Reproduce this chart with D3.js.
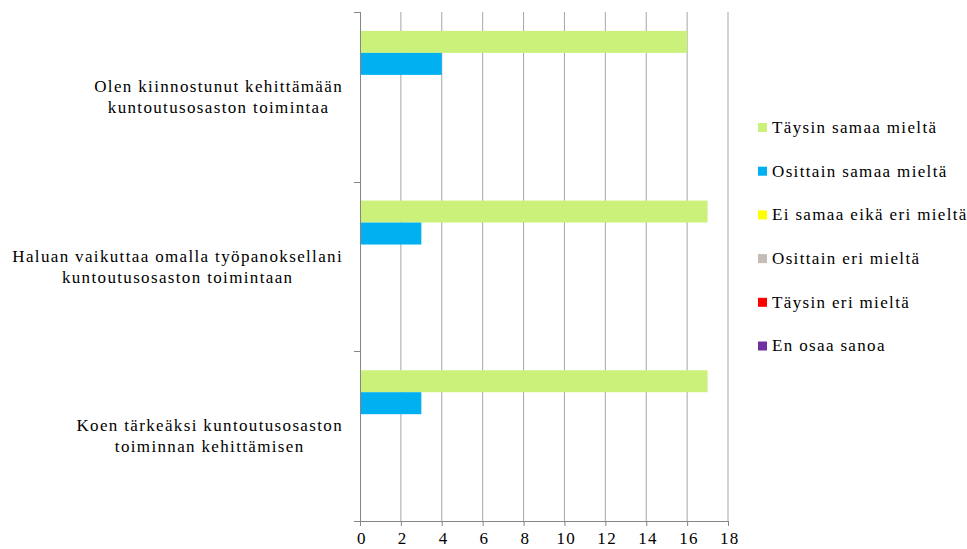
<!DOCTYPE html>
<html>
<head>
<meta charset="utf-8">
<script src="https://cdn.jsdelivr.net/npm/d3@7"></script>
</head>
<body style="margin:0; background:#fff">
<div id="chart"></div>
<script>
var categories = [
    ["Olen kiinnostunut kehittämään", "kuntoutusosaston toimintaa"],
    ["Haluan vaikuttaa omalla työpanoksellani", "kuntoutusosaston toimintaan"],
    ["Koen tärkeäksi kuntoutusosaston", "toiminnan kehittämisen"]
];
var seriesNames = [
    "Täysin samaa mieltä",
    "Osittain samaa mieltä",
    "Ei samaa eikä eri mieltä",
    "Osittain eri mieltä",
    "Täysin eri mieltä",
    "En osaa sanoa"
];
var seriesColors = ["#ccf17b", "#00b0f0", "#ffff00", "#c4bdb7", "#ff0000", "#7030a0"];
// values per series, in category order
var taysinSamaa = [16, 17, 17];
var osittainSamaa = [4, 3, 3];
var eiSamaaEikaEri = [0, 0, 0];
var osittainEri = [0, 0, 0];
var taysinEri = [0, 0, 0];
var enOsaa = [0, 0, 0];
var xTicks = [0, 2, 4, 6, 8, 10, 12, 14, 16, 18];

var values = [taysinSamaa, osittainSamaa, eiSamaaEikaEri, osittainEri, taysinEri, enOsaa];

var width = 967,
    height = 549,
    margin = { left: 360, top: 12, right: 239, bottom: 28 };

// same look as the old office chart
function serif(sel) {
    return sel
        .style('font-family', '"Liberation Serif"')
        .style('font-size', '17px')
        .style('letter-spacing', '1.35px')
        .attr('fill', '#000');
}

var svg = d3.select('#chart')
    .append('svg')
    .attr('width', width)
    .attr('height', height);

var x = d3.scaleLinear()
    .domain([0, 18])
    .range([margin.left, width - margin.right]);

var y = d3.scaleBand()
    .domain(d3.range(categories.length))
    .range([margin.top, height - margin.bottom]);

var ySeries = d3.scaleBand()
    .domain(d3.range(seriesNames.length))
    .range([0, y.bandwidth()])
    .paddingOuter(0.86);

// vertical gridlines
svg.append('g')
    .selectAll('line')
    .data(xTicks.slice(1))
    .enter()
    .append('line')
    .attr('x1', function(d) { return x(d); })
    .attr('x2', function(d) { return x(d); })
    .attr('y1', margin.top)
    .attr('y2', height - margin.bottom)
    .attr('stroke', '#a6a6a6')
    .attr('stroke-width', 1);

// bars
var groups = svg.append('g')
    .selectAll('g')
    .data(values)
    .enter()
    .append('g')
    .attr('fill', function(d, i) { return seriesColors[i]; });

groups.each(function(vals, si) {
    d3.select(this).selectAll('rect')
        .data(vals)
        .enter()
        .append('rect')
        .attr('x', x(0))
        .attr('y', function(d, ci) { return y(ci) + ySeries(si); })
        .attr('width', function(d) { return x(d) - x(0); })
        .attr('height', ySeries.bandwidth());
});

// x axis
var xAxis = svg.append('g')
    .attr('transform', 'translate(0,' + (height - margin.bottom) + ')')
    .call(d3.axisBottom(x).tickValues(xTicks).tickSize(5).tickSizeOuter(0).tickPadding(6));
xAxis.select('.domain')
    .attr('d', 'M' + (x(0) - 6) + ',0.5H' + x(18))
    .attr('stroke', '#868686');
xAxis.selectAll('.tick line').attr('stroke', '#868686');
serif(xAxis.selectAll('.tick text'))
    .attr('dx', '0.08em');

// y axis line and ticks at category boundaries
var yEdges = d3.range(categories.length + 1).map(function(i) {
    return i < categories.length ? y(i) : y(i - 1) + y.bandwidth();
});
svg.append('line')
    .attr('x1', x(0) + 0.5).attr('x2', x(0) + 0.5)
    .attr('y1', margin.top).attr('y2', height - margin.bottom)
    .attr('stroke', '#868686');
svg.append('g')
    .selectAll('line')
    .data(yEdges)
    .enter()
    .append('line')
    .attr('x1', x(0) - 6).attr('x2', x(0))
    .attr('y1', function(d) { return Math.round(d) + 0.5; })
    .attr('y2', function(d) { return Math.round(d) + 0.5; })
    .attr('stroke', '#868686');

// category labels
var labels = serif(svg.append('g')
    .selectAll('text')
    .data(categories)
    .enter()
    .append('text'))
    .attr('text-anchor', 'middle')
    .attr('y', function(d, i) { return y(i) + y.bandwidth() / 2 - 5; });

labels.each(function(lines) {
    var t = d3.select(this);
    t.selectAll('tspan')
        .data(lines)
        .enter()
        .append('tspan')
        .attr('dy', function(d, j) { return j === 0 ? 0 : 21; })
        .text(function(d) { return d; });
    var w = d3.max(t.selectAll('tspan').nodes(), function(n) { return n.getComputedTextLength(); });
    t.selectAll('tspan').attr('x', 343 - w / 2);
});

// legend
var legend = svg.append('g')
    .selectAll('g')
    .data(seriesNames)
    .enter()
    .append('g')
    .attr('transform', function(d, i) { return 'translate(758,' + (127 + i * 43.7) + ')'; });

legend.append('rect')
    .attr('x', 0).attr('y', -4)
    .attr('width', 9).attr('height', 9)
    .attr('fill', function(d, i) { return seriesColors[i]; });

serif(legend.append('text'))
    .attr('x', 14)
    .attr('dy', '0.35em')
    .text(function(d) { return d; });
</script>
</body>
</html>
